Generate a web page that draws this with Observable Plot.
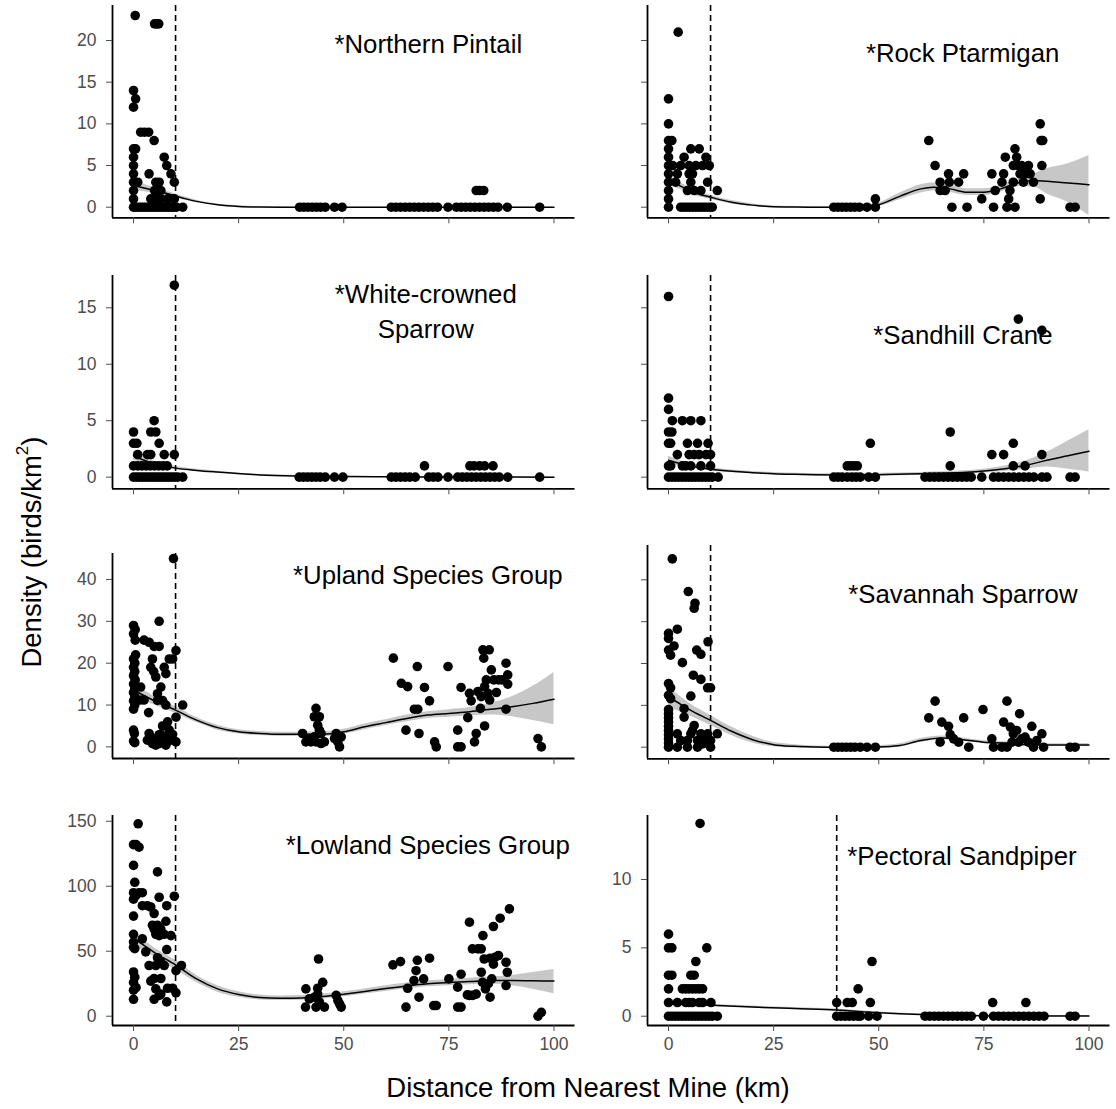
<!DOCTYPE html>
<html><head><meta charset="utf-8">
<script src="https://cdn.jsdelivr.net/npm/d3@7"></script>
<script src="https://cdn.jsdelivr.net/npm/@observablehq/plot@0.6"></script>
<style>
body{margin:0;background:#fff;overflow:hidden}
#chart{position:relative;width:1116px;height:1109px;font-family:"Liberation Sans",Arial,sans-serif;background:#fff}
.panel{position:absolute}
.axtitle{position:absolute;white-space:nowrap;font-size:27.5px;color:#000;line-height:1}
</style></head><body><div id="chart"></div>
<script>
// ---------- data ----------
const speciesTitles = ["*Northern Pintail","*Rock Ptarmigan","*White-crowned\nSparrow","*Sandhill Crane","*Upland Species Group","*Savannah Sparrow","*Lowland Species Group","*Pectoral Sandpiper"];
const mineBuffer = [10,10,10,10,10,10,10,40];
const xTicks = [0,25,50,75,100];
const yTicksByPanel = [[0,5,10,15,20],[0,5,10,15,20],[0,5,10,15],[0,5,10,15],[0,10,20,30,40],[0,10,20,30,40],[0,50,100,150],[0,5,10]];
const xLabel = "Distance from Nearest Mine (km)";

const pintailPts = [[0.4,23],[5.0,22],[5.5,22],[6.0,22],[0,14],[0.5,13],[0,12],[1.7,9],[2.6,9],[3.6,9],[4.9,8],[0,7],[0.5,7],[0,6],[7.3,6],[0,5],[7.9,5],[0,4],[3.7,4],[8.9,4],[0,3],[1.0,3],[5.3,3],[6.1,3],[9.7,3],[0,2],[5.0,2],[5.7,2],[6.5,2],[0,1],[4.1,1],[5.3,1],[6.5,1],[8.1,1],[9.7,1],
[0,0],[0.6,0],[1.2,0],[1.8,0],[2.4,0],[3.0,0],[3.6,0],[4.2,0],[4.8,0],[5.4,0],[6.0,0],[6.6,0],[7.2,0],[7.8,0],[8.4,0],[9.0,0],[9.6,0],[10.2,0],[11.7,0],
[39.5,0],[40.5,0],[41.5,0],[42.5,0],[43.5,0],[44.5,0],[45.6,0],[47.8,0],[49.6,0],
[61.3,0],[62.4,0],[63.5,0],[64.6,0],[65.7,0],[66.8,0],[67.9,0],[69.0,0],[70.1,0],[71.2,0],[72.3,0],[74.8,0],[76.8,0],[77.9,0],[79.0,0],[80.1,0],[81.2,0],[82.3,0],[83.4,0],[84.5,0],[85.6,0],[86.7,0],[88.9,0],[96.6,0],
[81.5,2],[82.3,2],[83.3,2]];
const pintailFit = [[0,2.6,2.0,3.2],[2.5,2.3,1.85,2.75],[5,2.0,1.65,2.35],[7.5,1.7,1.42,1.98],[10,1.35,1.1,1.6],[12.5,1.0,0.8,1.2],[15,0.7,0.55,0.85],[20,0.3,0.2,0.4],[25,0.1,0.04,0.18],[30,0.03,0,0.08],[40,0,0,0.03],[50,0,0,0.02],[60,0,0,0.02],[70,0,0,0.02],[80,0,0,0.02],[90,0,0,0.02],[100,0,0,0.02]];

const ptarmiganPts = [[2.3,21],[0,13],[0,10],[0,8],[0.8,8],[0,7],[5.3,7],[7.3,7],[0,6],[3.7,6],[8.9,6],[0,5],[1.0,5],[2.9,5],[4.9,5],[6.5,5],[8.1,5],[9.7,5],[0,4],[2.1,4],[4.9,4],[5.7,4],[0,3],[1.7,3],[5.3,3],[9.3,3],[0,2],[4.5,2],[6.1,2],[7.7,2],[11.6,2],[0,1],
[0,0],[2.9,0],[3.6,0],[4.3,0],[5.0,0],[5.7,0],[6.4,0],[7.1,0],[7.8,0],[8.5,0],[9.2,0],[9.9,0],[10.4,0],
[39.3,0],[40.3,0],[41.3,0],[42.3,0],[43.3,0],[44.3,0],[45.4,0],[47.2,0],[49.2,0],[49.2,1],
[61.9,8],[63.4,5],[64.6,3],[64.6,2],[66.6,4],[66.8,3],[65.8,2],[69.0,3],[70.2,4],[67.4,0],[71.0,0],[74.5,1],[76.9,4],[77.3,0],[77.7,2],[79.3,3],[79.7,4],[80.1,6],[80.5,0],[80.9,1],[81.2,2],[82.0,3],[82.4,7],[82.8,6],[82.0,5],[83.2,5],[83.6,4],[84.0,5],[84.4,3],[84.8,4],[85.6,5],[86.0,4],[86.8,3],[88.4,10],[88.6,8],[89.0,8],[88.8,5],[88.4,1],[95.5,0],[96.7,0],[82.4,0]];
const ptarmiganFit = [[0,3.2,2.6,3.8],[3,2.5,2.1,2.9],[7,1.6,1.3,1.9],[10,1.2,0.95,1.45],[15,0.6,0.4,0.8],[20,0.25,0.1,0.4],[25,0.05,-0.05,0.15],[30,0.02,-0.05,0.1],[35,0,-0.05,0.05],[40,0,-0.05,0.05],[45,0,-0.1,0.1],[50,0.3,0.1,0.5],[55,1.3,0.9,1.7],[60,2.2,1.7,2.7],[63,2.4,1.95,2.9],[67,2.2,1.75,2.65],[71,1.8,1.4,2.2],[75,1.8,1.4,2.2],[79,2.2,1.8,2.6],[83,2.9,2.45,3.35],[87,3.2,2.4,4.0],[90,3.1,1.6,4.6],[95,2.9,0.6,5.2],[100,2.7,-1.0,6.2]];

const wcsPts = [[9.7,17],[0,4],[4.1,4],[5.3,4],[4.9,5],[0,3],[0.8,3],[6.1,3],[1.0,2],[3.3,2],[4.1,2],[7.3,2],[9.7,2],[0,1],[1,1],[2,1],[3,1],[4,1],[5,1],[6,1],[7,1],[8,1],
[0,0],[0.7,0],[1.4,0],[2.1,0],[2.8,0],[3.5,0],[4.2,0],[4.9,0],[5.6,0],[6.3,0],[7.0,0],[7.7,0],[8.4,0],[9.1,0],[9.8,0],[10.5,0],[11.7,0],
[39.4,0],[40.4,0],[41.4,0],[42.4,0],[43.4,0],[44.4,0],[45.6,0],[47.8,0],[49.8,0],
[61.3,0],[62.4,0],[63.5,0],[64.6,0],[65.7,0],[67.0,0],[69.2,1],[70.2,0],[71.3,0],[72.4,0],[74.8,0],[77.1,0],[78.2,0],[79.3,0],[80.4,0],[81.5,0],[82.6,0],[83.7,0],[84.8,0],[85.9,0],[87.0,0],[89.0,0],[96.6,0],
[80.0,1],[81.0,1],[82.3,1],[83.5,1],[85.5,1]];
const wcsFit = [[0,1.9,1.5,2.3],[2.5,1.5,1.25,1.75],[5,1.2,1.0,1.4],[10,0.8,0.65,0.95],[15,0.6,0.5,0.7],[20,0.45,0.37,0.53],[30,0.2,0.15,0.25],[40,0.1,0.06,0.14],[50,0.05,0.02,0.08],[60,0.03,0,0.06],[70,0.02,0,0.05],[80,0.01,0,0.04],[90,0.01,0,0.04],[100,0,0,0.03]];

const cranePts = [[0,16],[83.2,14],[88.8,13],[0,7],[0,6],[0.9,5],[3.3,5],[5.3,5],[7.7,5],[0,4],[0.8,4],[0,3],[0.5,3],[4.5,3],[6.9,3],[9.4,3],[2.1,2],[4.9,2],[6.1,2],[7.3,2],[8.9,2],[10.0,2],[0,1],[0.5,1],[3.3,1],[4.1,1],[5.3,1],[7.7,1],[10.0,1],
[0,0],[0.8,0],[1.6,0],[2.4,0],[3.2,0],[4.0,0],[4.8,0],[5.6,0],[6.4,0],[7.2,0],[8.0,0],[8.8,0],[9.6,0],[10.4,0],[11.8,0],
[39.3,0],[40.3,0],[41.3,0],[42.5,0],[43.6,0],[44.6,0],[45.6,0],[47.6,0],[49.2,0],[42.5,1],[43.3,1],[44.1,1],[44.9,1],[48.0,3],
[61.0,0],[62.1,0],[63.2,0],[64.3,0],[65.4,0],[66.5,0],[67.6,0],[68.7,0],[69.8,0],[70.9,0],[72.0,0],[67.0,4],[67.0,1],[74.5,0],
[76.9,2],[79.7,2],[88.8,2],[82.0,3],[82.0,1],[84.8,1],[77.3,0],[78.5,0],[79.7,0],[80.9,0],[82.1,0],[83.3,0],[84.5,0],[85.7,0],[86.9,0],[88.8,0],[90.0,0],[95.5,0],[96.7,0]];
const craneFit = [[0,1.5,1.15,1.85],[5,1.0,0.8,1.2],[10,0.7,0.55,0.85],[20,0.4,0.3,0.5],[30,0.25,0.15,0.35],[40,0.2,0.1,0.3],[50,0.22,0.1,0.34],[60,0.3,0.18,0.42],[70,0.42,0.28,0.56],[80,0.75,0.5,1.0],[85,1.05,0.7,1.45],[90,1.5,0.9,2.2],[95,1.9,0.7,3.2],[100,2.3,0.45,4.2]];

const uplandPts = [[9.5,45],[6.1,30],[0,29],[0.4,28],[0,27],[0.4,25.5],[2.5,25.5],[3.7,25],[4.9,24],[6.1,24],[0.5,22],[0,21],[0.3,20],[0,19],[0.3,18],[0,17],[0.4,16],[0,15],[0.3,14],[0,13],[0.3,12],[0,11],[0.3,10],[0,9],
[4.5,21],[4.1,19],[4.8,18],[5.3,16.7],[7.3,19],[7.7,17.5],[8.5,21],[9.3,21],[10.1,23],
[1.7,14.3],[6.5,14.3],[5.7,12.7],[1.6,11.2],[2.5,11.2],[5.7,11.1],[6.9,11.1],[7.7,10],[11.7,10],[3.6,8.2],[10.1,7.1],[8.1,6],[6.9,5],[8.5,4],[6.1,2.9],
[0,4],[0.2,3.2],[0,1.4],[0.3,1],
[4.1,2.4],[4.9,1.6],[5.3,0.4],[4.5,0.8],[6.1,0.8],[7.3,1.6],[8.1,2.4],[8.9,1.6],[10.1,1.2],[3.3,1.6],[3.7,3.2],[5.7,2],[6.5,3],[7.7,0.4],[9.3,3],
[40.2,3.2],[41.0,1.2],[41.8,2],[43.4,9.2],[43.0,7.2],[44.2,7.2],[43.8,5.2],[44.2,4],[44.6,3.2],[43.0,2.4],[42.2,1.2],[43.4,1.2],[45.4,1.2],[44.6,0.8],[48.2,3.2],[47.8,2],[48.6,1.2],[49.0,0],[49.4,2.4],
[61.8,21.2],[63.7,15.2],[65.2,14.4],[64.8,4],[66.8,9],[67.5,19.2],[67.6,9],[67.9,3.2],[69.2,14.2],[70.4,11],[71.6,1.2],[72.0,0],[74.8,19.2],[77.1,4],[77.1,0],[77.9,0],[77.9,14.2],[79.5,7],[79.9,12.8],[80.3,11],[81.1,1.2],[81.5,3.2],[81.9,13.2],[82.5,9.2],[82.7,12],[83.1,23.2],[84.6,23.2],[83.3,21.2],[83.5,5],[83.5,14.4],[83.9,16],[84.3,12.8],[84.7,11.2],[85.1,18.4],[85.7,16],[86.8,16],[87.6,16],[86.3,13],[88.6,20],[89.0,17.2],[89.0,15],[88.6,9],[96.2,2],[97.0,0]];
const uplandFit = [[0,13.6,12.0,15.2],[5,11.0,10.0,12.0],[10,8.8,8.0,9.6],[15,6.4,5.8,7.0],[20,4.6,4.0,5.2],[25,3.6,3.1,4.1],[30,3.2,2.7,3.7],[35,3.0,2.5,3.5],[40,3.0,2.5,3.5],[45,3.0,2.4,3.6],[50,3.6,3.0,4.2],[55,4.8,4.1,5.5],[60,5.8,5.1,6.5],[65,6.8,6.0,7.6],[70,7.6,6.8,8.4],[75,8.0,7.1,8.9],[80,8.4,7.4,9.4],[85,9.0,7.6,10.4],[90,9.6,7.2,12.0],[95,10.4,6.3,14.5],[100,11.4,5.3,17.8]];

const savannahPts = [[0.9,45],[4.7,37.2],[6.3,34.4],[6.1,33.2],[2.1,28.2],[0,27.2],[0,26],[1.3,24.2],[0,23.2],[0.5,22],[9.4,25.2],[6.7,23.2],[7.7,22.2],[3.3,20.2],[5.9,17.2],[7.7,16.2],[9.3,14.2],[10.0,14.2],[0,15.2],[0.5,14.2],[5.3,12.2],[0,12.4],[0.5,11.6],[0,9],[3.7,9.2],[3.7,7.2],
[0,8],[0,7],[0,6],[0,5],[0,4],[0,3],[0,2],[0,1],[0,0],
[2.1,3.2],[2.9,1.6],[4.5,1.6],[5.3,3.2],[6.1,5.2],[6.9,1.6],[7.7,3.2],[8.5,1.6],[9.3,3.2],[10.0,1.6],[11.6,3.2],[2.1,0],[4.5,0],[6.9,0],[10.0,0],[5.7,4],[8.1,0.8],
[39.3,0],[40.3,0],[41.3,0],[42.3,0],[43.3,0],[44.3,0],[45.6,0],[47.2,0],[49.2,0],
[63.4,11],[61.9,7],[65.0,6],[66.6,5],[67.0,3],[64.6,1.2],[67.8,2],[69.0,1.2],[70.2,7],[71.4,0],[74.8,9],[76.9,2],[77.3,0],[79.7,6],[80.5,11],[81.3,4.8],[82.0,3.2],[82.8,4],[83.5,8],[79.3,0],[80.5,0],[81.7,1.2],[83.3,1.2],[84.0,2],[84.8,2.4],[86.4,5],[88.8,3.2],[86.8,0],[89.2,0],[85.6,1.2],[87.6,1.6],[95.5,0],[96.7,0]];
const savannahFit = [[0,12.0,9.6,14.4],[2,10.8,8.8,12.8],[5,9.0,7.5,10.5],[10,6.4,5.2,7.6],[15,3.8,2.8,4.8],[20,1.8,1.0,2.6],[25,0.6,0.1,1.1],[30,0.2,-0.2,0.6],[35,0.05,-0.2,0.3],[40,0,-0.2,0.2],[45,0,-0.2,0.2],[50,0.05,-0.25,0.35],[55,0.4,0.0,0.8],[60,1.6,1.1,2.1],[65,2.2,1.7,2.7],[70,1.8,1.4,2.2],[75,1.2,0.85,1.55],[80,1.0,0.7,1.3],[85,0.6,0.3,0.9],[90,0.5,0.2,0.8],[95,0.5,0.15,0.85],[100,0.5,0.1,0.9]];

const lowlandPts = [[1.1,148],[0,132],[0.6,132],[1.3,130],[0,116],[5.7,111],[0.3,103],[0,95],[0,90],[0.6,93],[1.3,95],[2.1,95],[6.1,91.5],[9.7,92.3],[2.1,85],[3.3,85],[4.1,84],[7.9,85],[4.9,79],[0,77],[7.7,73],[4.5,70],[4.9,67],[5.7,70],[6.5,67],[7.3,63],[6.1,62],[5.3,63],[8.9,62],[0,63],[0,57],[0,53],[0.3,52],[2.1,59.5],[2.9,49.5],[5.7,45],[6.5,41.5],[7.3,39],[5.3,39],[7.9,51.3],[10.1,35],[11.4,39],[3.7,39],[0,34],[0.3,30],[0,26],[0.6,22],[0,20],[0,13],[4.1,27],[4.9,29],[6.5,29],[5.3,21],[6.5,17],[4.9,13],[6.1,16],[7.9,11],[8.1,21.5],[9.3,21.5],[10.1,18],
[44.0,44],[41.0,21],[40.9,7],[41.8,13.3],[43.0,14.6],[43.8,17],[45.0,26],[43.8,21.5],[44.2,11],[45.4,7],[43.4,7],[48.2,16],[48.6,12],[49.0,9.5],[49.4,7],
[61.7,39.5],[63.5,42],[64.8,7],[65.2,21.5],[66.7,27.4],[67.2,35],[67.5,43],[67.9,14.6],[69.0,28.7],[70.4,44.6],[71.4,8.2],[72.0,8.2],[75.0,28.7],[77.1,22.3],[77.1,7],[77.9,7],[77.9,32.3],[79.9,72.3],[79.4,16.4],[79.9,16],[80.7,16],[81.5,17],[80.6,51.8],[81.9,51.8],[82.7,51.8],[83.1,62],[82.7,33.8],[83.0,26],[83.7,21],[84.4,25],[83.4,44],[84.8,44.6],[86.0,45.4],[86.8,46.7],[85.2,28.7],[85.6,40],[84.8,14.6],[85.6,69],[87.2,75.4],[88.6,41.5],[88.9,33.8],[88.6,23.6],[89.4,82.6],[96.2,0],[97.0,3]];
const lowlandFit = [[0,60,55,65],[5,49,45.5,52.5],[10,39.5,36,43],[15,28.7,26,31.4],[20,21,18.5,23.5],[25,16.7,14.5,18.9],[30,14.4,12.5,16.3],[35,13.8,12,15.6],[40,14.1,12.3,15.9],[45,15.1,13.2,17],[50,16.9,14.9,18.9],[55,19,17,21],[60,21.3,19.1,23.5],[65,23.3,21.1,25.5],[70,24.9,22.6,27.2],[75,25.9,23.5,28.3],[80,26.7,24.2,29.2],[85,27.4,24.5,30.3],[90,27.4,23.5,31.3],[95,27.2,20.8,33.6],[100,27,17.2,35.9]];

const pectoralPts = [[7.5,14.1],[0,6],[0,5],[0.8,5],[9.1,5],[6.5,4],[48.4,4],[0,3],[0.8,3],[5.3,3],[6.1,3],[0,2],[3.3,2],[4.1,2],[4.9,2],[5.7,2],[6.5,2],[7.3,2],[8.1,2],[45.1,2],[0,1],[2.1,1],[4.1,1],[4.9,1],[5.7,1],[7.3,1],[8.1,1],[10.1,1],[40.0,1],[42.5,1],[43.7,1],[48.0,1],[77.1,1],[85.0,1],
[0,0],[0.8,0],[1.6,0],[2.4,0],[3.2,0],[4.0,0],[4.8,0],[5.6,0],[6.4,0],[7.2,0],[8.0,0],[8.8,0],[9.6,0],[10.4,0],[11.6,0],
[40.0,0],[41.0,0],[42.0,0],[43.0,0],[44.0,0],[45.0,0],[45.6,0],[47.6,0],[49.6,0],
[61.0,0],[62.1,0],[63.2,0],[64.3,0],[65.4,0],[66.5,0],[67.6,0],[68.7,0],[69.8,0],[70.9,0],[72.0,0],[74.9,0],[77.3,0],[78.5,0],[79.7,0],[80.9,0],[82.1,0],[83.3,0],[84.5,0],[85.7,0],[86.9,0],[88.1,0],[89.3,0],[95.5,0],[96.7,0]];
const pectoralFit = [[0,0.9,0.8,1.0],[10,0.8,0.72,0.88],[20,0.67,0.6,0.74],[30,0.56,0.49,0.63],[40,0.45,0.38,0.52],[50,0.25,0.19,0.31],[60,0.12,0.07,0.17],[70,0.05,0.01,0.09],[80,0.02,-0.02,0.06],[90,0.01,-0.03,0.05],[100,0.01,-0.03,0.05]];

// ---------- layout (page pixels) ----------
const xDomain = [-5, 105];
const layout = [
  {axisX:111.7, top:5,     bottom:217.3, yDomain:[-1.27,24.2], tx:427.5, ty:41.7,  yLab:true,  xLab:false},
  {axisX:646.6, top:5,     bottom:217.3, yDomain:[-1.27,24.2], tx:961.7, ty:50,    yLab:false, xLab:false},
  {axisX:111.7, top:275,   bottom:488.3, yDomain:[-1.03,17.86], tx:425,  ty:309.2, yLab:true,  xLab:false},
  {axisX:646.6, top:275,   bottom:488.3, yDomain:[-1.03,17.86], tx:962,  ty:332.4, yLab:false, xLab:false},
  {axisX:111.7, top:553.3, bottom:758.3, yDomain:[-2.77,46.2], tx:427,   ty:572.4, yLab:true,  xLab:false},
  {axisX:646.6, top:545,   bottom:758.3, yDomain:[-2.77,48.2], tx:962,   ty:591,   yLab:false, xLab:false},
  {axisX:111.7, top:815,   bottom:1025,  yDomain:[-7.15,154.4], tx:427,  ty:842.7, yLab:true,  xLab:true},
  {axisX:646.6, top:815,   bottom:1025,  yDomain:[-0.68,14.68], tx:961,  ty:853.4, yLab:true,  xLab:true}
];
const panelPts = [pintailPts, ptarmiganPts, wcsPts, cranePts, uplandPts, savannahPts, lowlandPts, pectoralPts];
const panelFits = [pintailFit, ptarmiganFit, wcsFit, craneFit, uplandFit, savannahFit, lowlandFit, pectoralFit];

const ML = 56, MR = 6, MT = 12, MB = 40, INNER_W = 462.5;
const chart = document.getElementById("chart");
const font = "'Liberation Sans', Arial, sans-serif";

layout.forEach((L, i) => {
  const h = MT + (L.bottom - L.top) + MB;
  const svg = Plot.plot({
    width: ML + INNER_W + MR, height: h,
    marginLeft: ML, marginRight: MR, marginTop: MT, marginBottom: MB,
    x: {domain: xDomain},
    y: {domain: L.yDomain},
    style: {fontFamily: font, background: "transparent", overflow: "visible"},
    marks: [
      Plot.areaY(panelFits[i], {x: d => d[0], y1: d => d[2], y2: d => d[3], fill: "#999999", fillOpacity: 0.55, curve: "monotone-x"}),
      Plot.ruleX([mineBuffer[i]], {stroke: "black", strokeWidth: 1.6, strokeDasharray: "6,4"}),
      Plot.dot(panelPts[i], {x: d => d[0], y: d => d[1], r: 4.8, fill: "black"}),
      Plot.line(panelFits[i], {x: d => d[0], y: d => d[1], stroke: "black", strokeWidth: 1.5, curve: "monotone-x"}),
      Plot.ruleX([xDomain[0]], {stroke: "black", strokeWidth: 1.8}),
      Plot.ruleY([L.yDomain[0]], {stroke: "black", strokeWidth: 1.8}),
      Plot.axisX(xTicks, {anchor: "bottom", tickSize: 6, tickPadding: 6, fontSize: 17.5, color: "#4d4d4d", label: null,
        tickFormat: L.xLab ? (d => String(d)) : (() => "")}),
      Plot.axisY(yTicksByPanel[i], {anchor: "left", tickSize: 6, tickPadding: 10, fontSize: 17.5, color: "#4d4d4d", label: null,
        tickFormat: L.yLab ? (d => String(d)) : (() => "")}),
      Plot.text([speciesTitles[i]], {frameAnchor: "top-left", dx: L.tx - L.axisX, dy: L.ty - L.top, text: d => d,
        textAnchor: "middle", lineAnchor: "middle", lineHeight: 1.35, fontSize: 25.8, fill: "black", fontFamily: font})
    ]
  });
  const wrap = document.createElement("div");
  wrap.className = "panel";
  wrap.style.left = (L.axisX - ML) + "px";
  wrap.style.top = (L.top - MT) + "px";
  wrap.appendChild(svg);
  chart.appendChild(wrap);
});

const yl = document.createElement("div");
yl.className = "axtitle";
yl.innerHTML = "Density (birds/km<sup style='font-size:0.62em;vertical-align:0.75em;line-height:0'>2</sup>)";
yl.style.left = "32px"; yl.style.top = "552px";
yl.style.transform = "translate(-50%,-50%) rotate(-90deg)";
chart.appendChild(yl);

const xl = document.createElement("div");
xl.className = "axtitle";
xl.textContent = xLabel;
xl.style.left = "588px"; xl.style.top = "1088px";
xl.style.transform = "translate(-50%,-50%)";
chart.appendChild(xl);
</script>
</body></html>
